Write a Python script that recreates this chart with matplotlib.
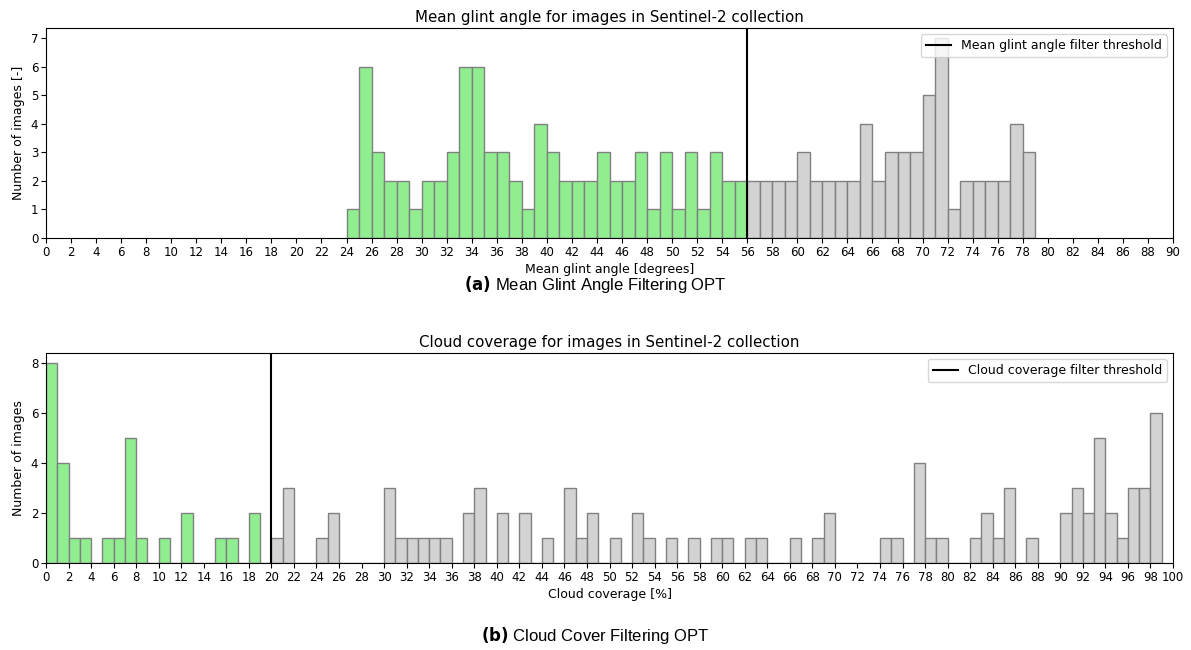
import matplotlib
matplotlib.use("Agg")
import matplotlib.pyplot as plt
import numpy as np

# ---- Data ----
# Mean glint angle histogram: counts per 1-degree bin, starting at 24 deg
glint_start = 24
glint_counts = [1, 6, 3, 2, 2, 1, 2, 2, 3, 6,   # 24-33
                6, 3, 3, 2, 1, 4, 3, 2, 2, 2,   # 34-43
                3, 2, 2, 3, 1, 3, 1, 3, 1, 3,   # 44-53
                2, 2, 2, 2, 2, 2, 3, 2, 2, 2,   # 54-63
                2, 4, 2, 3, 3, 3, 5, 7, 1, 2,   # 64-73
                2, 2, 2, 4, 3]                  # 74-78
glint_threshold = 56

# Cloud coverage histogram: counts per 1% bin, starting at 0
cloud_counts = [8, 4, 1, 1, 0, 1, 1, 5, 1, 0,   # 0-9
                1, 0, 2, 0, 0, 1, 1, 0, 2, 0,   # 10-19
                1, 3, 0, 0, 1, 2, 0, 0, 0, 0,   # 20-29
                3, 1, 1, 1, 1, 1, 0, 2, 3, 0,   # 30-39
                2, 0, 2, 0, 1, 0, 3, 1, 2, 0,   # 40-49
                1, 0, 2, 1, 0, 1, 0, 1, 0, 1,   # 50-59
                1, 0, 1, 1, 0, 0, 1, 0, 1, 2,   # 60-69
                0, 0, 0, 0, 1, 1, 0, 4, 1, 1,   # 70-79
                0, 0, 1, 2, 1, 3, 0, 1, 0, 0,   # 80-89
                2, 3, 2, 5, 2, 1, 3, 3, 6]      # 90-98
cloud_threshold = 20

GREEN = "#90ee90"
GRAY = "#d3d3d3"
EDGE = "#808080"

fig = plt.figure(figsize=(11.91, 6.5), dpi=100)
ax1 = fig.add_axes([46/1191, 1-238/650, 1127/1191, 210/650])
ax2 = fig.add_axes([46/1191, 1-563/650, 1127/1191, 210/650])

def draw_hist(ax, start, counts, thr):
    edges = start + np.arange(len(counts))
    counts = np.asarray(counts)
    colors = [GREEN if e < thr else GRAY for e in edges]
    ax.bar(edges, counts, width=1.0, align="edge", color=colors,
           edgecolor=EDGE, linewidth=1.0)

draw_hist(ax1, glint_start, glint_counts, glint_threshold)
ax1.axvline(glint_threshold, color="black", linewidth=1.5,
            label="Mean glint angle filter threshold")
ax1.set_xlim(0, 90)
ax1.set_ylim(0, max(glint_counts) * 1.05)
ax1.set_xticks(np.arange(0, 91, 2))
ax1.set_yticks(np.arange(0, 8, 1))
ax1.set_title("Mean glint angle for images in Sentinel-2 collection", fontsize=10.8, pad=4)
ax1.set_xlabel("Mean glint angle [degrees]", fontsize=9, labelpad=3)
ax1.set_ylabel("Number of images [-]", fontsize=9)
ax1.legend(loc="upper right", fontsize=9)

draw_hist(ax2, 0, cloud_counts, cloud_threshold)
ax2.axvline(cloud_threshold, color="black", linewidth=1.5,
            label="Cloud coverage filter threshold")
ax2.set_xlim(0, 100)
ax2.set_ylim(0, max(cloud_counts) * 1.05)
ax2.set_xticks(np.arange(0, 101, 2))
ax2.set_yticks(np.arange(0, 9, 2))
ax2.set_title("Cloud coverage for images in Sentinel-2 collection", fontsize=10.8, pad=4)
ax2.set_xlabel("Cloud coverage [%]", fontsize=9, labelpad=3)
ax2.set_ylabel("Number of images", fontsize=9)
ax2.legend(loc="upper right", fontsize=9)

for ax in (ax1, ax2):
    ax.tick_params(labelsize=8.5, length=3.5, pad=2)

fig.text(0.5, 1-284/650, r"$\bf{(a)}$ Mean Glint Angle Filtering OPT", ha="center", va="center",
         fontsize=12, family="Liberation Sans")
fig.text(0.5, 1-636/650, r"$\bf{(b)}$ Cloud Cover Filtering OPT", ha="center", va="center",
         fontsize=12, family="Liberation Sans")

fig.savefig("out.png", dpi=100)
